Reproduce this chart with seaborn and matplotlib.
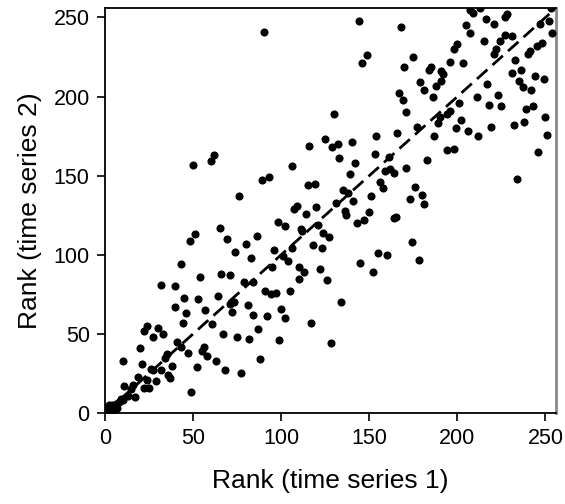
import matplotlib
matplotlib.use("Agg")
import matplotlib.pyplot as plt
import seaborn as sns
import pandas as pd

# Points (rank in series 1, rank in series 2)
pts = [
    # upper middle
    (90,241),(144,248),(168,244),(149,226),(146,221),(170,219),(167,202),(169,198),
    (130,189),(166,177),(154,175),(125,173),
    # upper right
    (207,255),(209,253),(213,256),(216,249),(221,246),(227,250),(228,252),(253,256),
    (247,246),(252,248),(254,240),(205,245),(207,240),(224,235),(227,239),(231,238),
    (215,235),(200,233),(198,230),(222,230),(221,227),(241,229),(240,227),(245,232),
    (248,234),(175,225),(196,222),(203,221),(185,219),(184,217),(191,216),(192,214),
    (191,210),(179,209),(188,207),(181,204),(186,200),(171,190),(233,223),(231,215),
    (236,217),(235,210),(244,213),(249,211),(237,206),(242,204),(217,208),(223,201),
    (211,200),(201,196),(218,195),(225,194),(239,192),(243,194),(196,191),(194,189),
    (190,187),(189,183),(202,185),(177,181),(199,180),(206,178),(212,175),(219,181),
    (232,182),(238,184),(250,187),(251,176),(187,175),
    # middle right
    (194,166),(198,167),(246,165),(183,160),(171,155),(234,148),(176,143),(180,138),
    (173,135),(181,132),(174,108),(178,97),
    # centre
    (116,169),(129,168),(132,170),(140,171),(133,161),(142,158),(153,164),(161,162),
    (106,156),(89,147),(93,149),(115,144),(119,145),(139,151),(159,153),(162,154),
    (164,152),(156,146),(158,142),(135,141),(138,139),(151,137),(141,134),(131,133),
    (109,131),(107,129),(120,130),(114,126),(136,128),(137,125),(150,127),(147,122),
    (143,120),(164,123),(165,124),(98,121),(102,118),(111,116),(112,115),(121,119),
    (124,114),(127,111),(86,112),(118,106),(123,104),(96,103),(101,99),(104,96),
    (106,104),(83,98),(95,92),(110,92),(113,89),(122,91),(145,95),(155,101),
    (160,100),(152,89),
    # middle left
    (50,157),(60,159),(62,163),(76,137),(65,117),(48,109),(51,113),(69,110),
    (80,107),(74,102),(43,94),
    # lower left
    (54,86),(66,88),(71,87),(32,81),(40,80),(45,73),(53,72),(64,74),(79,83),(84,83),
    (40,67),(46,63),(57,65),(73,70),(71,69),(81,68),(84,62),(72,64),(44,57),(61,56),
    (22,52),(24,55),(30,54),(27,48),(33,50),(67,50),(75,48),(82,47),(41,45),(43,42),
    (56,42),(55,39),(47,38),(20,41),(58,36),(35,37),(34,35),(10,33),(21,31),(38,30),
    (63,33),(26,28),(27,27),(52,29),(68,27),(77,25),(32,27),(19,23),(24,21),(36,24),
    (37,22),(29,20),(16,18),(11,17),(22,16),(25,16),(15,15),(17,10),(13,11),(9,9),
    (10,8),(49,13),
    (1,1),(2,3),(3,2),(4,5),(5,4),(6,6),(7,3),(8,7),(3,0),(5,2),(2,5),(6,4),
    # lower middle
    (91,77),(94,75),(97,76),(105,77),(110,85),(126,84),(134,70),(92,61),(100,66),
    (102,60),(117,57),(87,53),(99,46),(128,44),(88,34),
]
rank1 = [p[0] for p in pts]
rank2 = [p[1] for p in pts]
ticks = [0, 50, 100, 150, 200, 250]

df = pd.DataFrame({"rank1": rank1, "rank2": rank2})

sns.set_style("ticks")
plt.rcParams["font.family"] = ["Liberation Sans", "DejaVu Sans"]
plt.rcParams["text.color"] = "black"
plt.rcParams["axes.labelcolor"] = "black"

fig = plt.figure(figsize=(5.65, 5.04), dpi=100)
ax = fig.add_axes([105/565, 1-413/504, (556-105)/565, (413-8)/504])

sns.scatterplot(data=df, x="rank1", y="rank2", ax=ax, color="black",
                s=34, edgecolor="black", linewidth=0, zorder=3)
ax.axline((0, 0), slope=1, color="black", lw=2.0, linestyle=(0, (5, 2.5)), zorder=2)

ax.set_xlim(0, 256)
ax.set_ylim(0, 256)
ax.set_xticks(ticks)
ax.set_yticks(ticks)
ax.tick_params(axis="both", direction="out", length=6, width=1.2, labelsize=15.5,
               colors="black", pad=5)
ax.set_xlabel("Rank (time series 1)", fontsize=19, labelpad=14, color="black")
ax.set_ylabel("Rank (time series 2)", fontsize=19, labelpad=8, color="black")

for side in ["left", "bottom", "top"]:
    ax.spines[side].set_color("black")
    ax.spines[side].set_linewidth(1.3)
ax.spines["right"].set_color("#888888")
ax.spines["right"].set_linewidth(2)
ax.spines["top"].set_visible(True)
ax.spines["right"].set_visible(True)

fig.savefig("out.png", dpi=100)
